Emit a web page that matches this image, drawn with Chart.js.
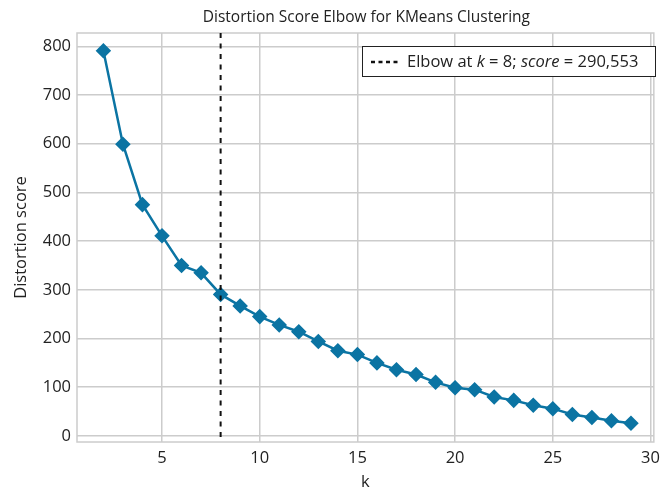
<!DOCTYPE html>
<html><head><meta charset="utf-8">
<script src="https://cdn.jsdelivr.net/npm/chart.js@4"></script>
<style>html,body{margin:0;padding:0;background:#fff}#c{display:block}</style>
</head><body>
<div style="width:666px;height:488px"><canvas id="c" width="666" height="488"></canvas></div>
<script>
const ks = [2,3,4,5,6,7,8,9,10,11,12,13,14,15,16,17,18,19,20,21,22,23,24,25,26,27,28,29];
const scores = [791,599,475,411,350,335,290.553,267,245,228,214,194,175,167,150,136,126,110,99,95,80,73,63,56,44,38,31,26];
const xTicks = [5,10,15,20,25,30];
const yTicks = [0,100,200,300,400,500,600,700,800];
const elbowK = 8;
const elbowScore = '290,553';
const titleText = 'Distortion Score Elbow for KMeans Clustering';
const FONT = '"Open Sans", sans-serif';
const BLUE = '#0b74a3';
const GRID = '#cccccc';

const overlay = {
  id: 'overlay',
  afterDatasetsDraw(chart) {
    const {ctx, chartArea: a, scales: {x, y}} = chart;
    ctx.save();
    // frame
    ctx.strokeStyle = GRID; ctx.lineWidth = 1.5;
    ctx.strokeRect(a.left, a.top, a.right - a.left, a.bottom - a.top);
    // elbow line
    const ex = x.getPixelForValue(elbowK);
    ctx.strokeStyle = '#111'; ctx.lineWidth = 2; ctx.setLineDash([5, 5.5]);
    ctx.beginPath(); ctx.moveTo(ex, a.top); ctx.lineTo(ex, a.bottom); ctx.stroke();
    ctx.setLineDash([]);
    // legend
    const bx = 362, by = 46, bw = 293, bh = 30;
    ctx.fillStyle = '#fff'; ctx.fillRect(bx, by, bw, bh);
    ctx.strokeStyle = '#222'; ctx.lineWidth = 1; ctx.strokeRect(bx + 0.5, by + 0.5, bw, bh);
    ctx.strokeStyle = '#111'; ctx.lineWidth = 2.5; ctx.setLineDash([4, 3.5]);
    ctx.beginPath(); ctx.moveTo(bx + 9, by + bh / 2 + 1); ctx.lineTo(bx + 39, by + bh / 2 + 1); ctx.stroke();
    ctx.setLineDash([]);
    ctx.fillStyle = '#222'; ctx.textBaseline = 'middle';
    const parts = [['Elbow at ', false], ['k', true], [' = ' + elbowK + '; ', false], ['score', true], [' = ' + elbowScore, false]];
    let tx = bx + 45; const ty = by + bh / 2 + 1;
    for (const [t, it] of parts) {
      ctx.font = (it ? 'italic ' : '') + '16.5px ' + FONT;
      ctx.fillText(t, tx, ty);
      tx += ctx.measureText(t).width;
    }
    // title
    ctx.font = '15.5px ' + FONT; ctx.textAlign = 'center'; ctx.textBaseline = 'middle';
    ctx.fillStyle = '#222';
    ctx.fillText(titleText, (a.left + a.right) / 2 + 1, 18);
    ctx.restore();
  }
};

new Chart(document.getElementById('c'), {
  type: 'line',
  data: { datasets: [{
    data: ks.map((k, i) => ({x: k, y: scores[i]})),
    borderColor: BLUE, backgroundColor: BLUE, borderWidth: 2.5,
    pointStyle: 'rectRot', pointRadius: 6, pointHoverRadius: 6, tension: 0
  }]},
  options: {
    responsive: false, animation: false, events: [],
    layout: { padding: { top: 33, right: 6, left: 0, bottom: 0 } },
    plugins: { legend: { display: false }, tooltip: { enabled: false } },
    scales: {
      x: {
        type: 'linear', min: 0.65, max: 30.17,
        afterBuildTicks: s => { s.ticks = xTicks.map(v => ({value: v})); },
        afterFit: s => { s.height = 46; },
        grid: { color: GRID, lineWidth: 1.5, drawTicks: false },
        border: { display: false },
        ticks: { color: '#222', font: { family: FONT, size: 16.5 }, padding: 6, maxRotation: 0 },
        title: { display: true, text: 'k', color: '#222', font: { family: FONT, size: 16.5 }, padding: { top: 1, bottom: -4 } }
      },
      y: {
        min: -12.5, max: 827.5,
        afterBuildTicks: s => { s.ticks = yTicks.map(v => ({value: v})); },
        afterFit: s => { s.width = 77; },
        grid: { color: GRID, lineWidth: 1.5, drawTicks: false },
        border: { display: false },
        ticks: { color: '#222', font: { family: FONT, size: 16.5 }, padding: 6 },
        title: { display: true, text: 'Distortion score', color: '#222', font: { family: FONT, size: 16.5 }, padding: { top: 11, bottom: 0 } }
      }
    }
  },
  plugins: [overlay]
});
</script>
</body></html>
